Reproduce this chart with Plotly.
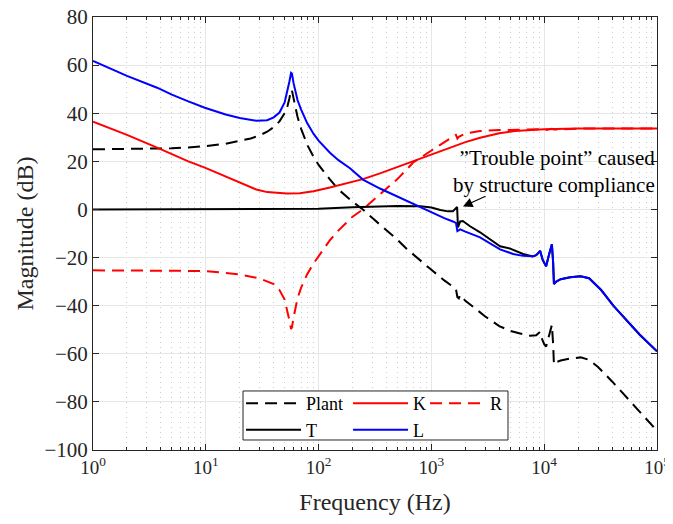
import plotly.graph_objects as go

# ---------------- data ----------------
plant_f = [1, 2, 3, 5, 7, 10, 15, 20, 25, 30, 35, 40, 45, 50, 53, 55, 57, 58, 60, 62, 65, 70, 80, 90,
           100, 126, 150, 200, 247, 300, 400, 500, 605, 700, 800, 1000, 1300, 1600, 1650, 1700, 1750,
           1800, 2000, 2500, 3000, 4000, 5000, 6000, 7500, 8500, 9000, 9200, 9600, 10000, 10400, 10800,
           11300, 11700, 12000, 12200, 12800, 14000, 17000, 21000, 25000, 30000, 40000, 50000, 70000, 100000]
plant_db = [25, 25.1, 25.2, 25.4, 25.8, 26.3, 27.3, 28.4, 29.5, 30.8, 32.3, 34.2, 36.6, 40.0, 43, 46, 49.8, 49.5,
            46, 42.5, 38.5, 33.5, 26.5, 22, 18.5, 12.5, 8.3, 3.2, 0, -3.6, -8.7, -12.6, -16.4, -19, -21.4,
            -25.1, -29.5, -32.3, -33, -36.5, -37, -35.5, -38, -41.5, -44.5, -48.5, -50.5, -51.5, -52.5, -52.3,
            -51.5, -50.9, -54, -56, -57, -54, -50, -48, -56, -64.5, -63.5, -62.8, -62, -61.5, -62.5, -65.5,
            -71.5, -76.5, -84, -92]

k_f = [1, 2, 3.7, 5, 7, 9.8, 15, 20, 28, 35, 45, 52, 68, 90, 126, 180, 247, 350, 500, 690, 1000, 1550,
       2000, 2700, 4000, 5500, 7000, 10000, 20000, 100000]
k_db = [36.5, 31, 25.7, 23, 20, 17.4, 13.8, 11.2, 8.3, 7.2, 6.7, 6.6, 6.7, 7.6, 9.1, 10.8, 12.6, 15, 17.7,
        19.9, 22.8, 26.1, 28, 29.8, 31.7, 32.6, 33, 33.3, 33.6, 33.7]

r_f = [1, 3, 10, 20, 30, 40, 45, 50, 53, 55, 57, 58, 60, 62, 65, 70, 79, 90, 103, 126, 148, 200, 247, 300,
       400, 500, 690, 1000, 1300, 1550, 1650, 1700, 1750, 2000, 2700, 4000, 6000, 9000, 10400, 11700, 12200,
       20000, 100000]
r_db = [-25.3, -25.3, -25.6, -27, -28.7, -31, -33.5, -37.5, -42, -46, -49.7, -49, -45, -41, -37, -32.5, -27,
        -22.5, -18.5, -12.8, -9, -3, 0, 3.6, 8.7, 12.6, 19.5, 24.5, 28, 30.3, 31, 29.5, 30.2, 31.5, 32.6, 33,
        33.2, 33.3, 33, 33.5, 33.2, 33.6, 33.7]

t_f = [1, 10, 30, 50, 100, 200, 300, 500, 800, 1000, 1200, 1400, 1550, 1650, 1690, 1720, 1800, 1900, 2200,
       2700, 3300, 4060, 5000, 5300, 6500, 7900, 8500, 9000, 9200, 9700, 10400, 11000, 11700, 12000, 12200,
       12800, 14000, 17000, 21000, 25000, 27000, 32000, 41000, 50000, 70000, 100000]
t_db = [0, 0, 0.05, 0.1, 0.3, 0.9, 1.2, 1.4, 1.3, 0.8, -0.2, -0.8, -0.8, 0.8, 1.0, -7.5, -5, -4.8, -7, -9.5,
        -12.5, -15.3, -16.3, -16.8, -18.5, -19.5, -19, -17.8, -17.2, -21, -23.6, -19, -14.5, -22, -31, -30,
        -29, -28.2, -27.8, -28.6, -30, -33.5, -40, -44.5, -52, -59]

l_f = [1, 2, 3.7, 5, 7, 9.8, 15, 20, 28, 35, 40, 45, 50, 53, 55, 57, 58, 60, 62, 65, 70, 79, 90, 100, 126,
       150, 191, 247, 350, 500, 794, 1000, 1300, 1550, 1650, 1700, 1750, 1800, 2000, 2700, 4060, 5300, 6500,
       7900, 8500, 9000, 9200, 9700, 10400, 11000, 11700, 12000, 12200, 12800, 14000, 17000, 21000, 25000,
       27000, 32000, 41000, 50000, 70000, 100000]
l_db = [61.7, 55.5, 50.6, 47.7, 44.9, 42.3, 39.5, 38, 36.9, 37.1, 38.3, 40.3, 44.5, 49, 53, 56.8, 56.5, 52.5,
        49.7, 45.5, 41.5, 36, 31.5, 28.6, 23.6, 20.5, 17, 12.4, 8.7, 5.3, 1.2, -1.0, -3.6, -5, -5.6, -9, -8.6,
        -8.3, -9.2, -11.6, -16.6, -18.5, -19.3, -19.5, -19, -17.8, -17.2, -21, -23.6, -19, -14.5, -22, -31,
        -30, -29, -28.2, -27.8, -28.6, -30, -33.5, -40, -44.5, -52, -59]

x_tickvals = [1, 10, 100, 1000, 10000, 100000]
x_ticktext = ["10<sup>0</sup>", "10<sup>1</sup>", "10<sup>2</sup>", "10<sup>3</sup>", "10<sup>4</sup>",
              "10<sup>5</sup>"]
y_tickvals = [80, 60, 40, 20, 0, -20, -40, -60, -80, -100]

annot_text = "\u201dTrouble point\u201d caused<br>by structure compliance"

# ---------------- figure ----------------
FONT = "Liberation Serif"
AX = "#262626"
DASH = "12px,7px"

fig = go.Figure()
fig.add_trace(go.Scatter(x=plant_f, y=plant_db, name="Plant", mode="lines", legend="legend",
                         line=dict(color="black", width=2, dash=DASH)))
fig.add_trace(go.Scatter(x=k_f, y=k_db, name="K", mode="lines", legend="legend2",
                         line=dict(color="#ff0000", width=2)))
fig.add_trace(go.Scatter(x=r_f, y=r_db, name="R", mode="lines", legend="legend3",
                         line=dict(color="#ff0000", width=2, dash=DASH)))
fig.add_trace(go.Scatter(x=t_f, y=t_db, name="T", mode="lines", legend="legend",
                         line=dict(color="black", width=2)))
fig.add_trace(go.Scatter(x=l_f, y=l_db, name="L", mode="lines", legend="legend2",
                         line=dict(color="#0000ff", width=2)))

LEG_Y = 0.150
leg_common = dict(orientation="v", y=LEG_Y, xanchor="left", yanchor="top",
                  bgcolor="rgba(0,0,0,0)", borderwidth=0, itemwidth=55,
                  font=dict(family=FONT, size=18, color="black"))

# the page body adds an 8px offset, so the figure is 8px smaller than the window
fig.update_layout(
    width=665, height=516,
    margin=dict(l=85, r=16, t=9, b=74, autoexpand=False),
    paper_bgcolor="white", plot_bgcolor="white",
    font=dict(family=FONT, size=20, color=AX),
    showlegend=True,
    legend=dict(x=0.2625, **leg_common),
    legend2=dict(x=0.4522, **leg_common),
    legend3=dict(x=0.5887, **leg_common),
    xaxis=dict(
        type="log", range=[0, 5], automargin=False, ticklabeloverflow="allow",
        tickmode="array", tickvals=x_tickvals, ticktext=x_ticktext,
        ticks="inside", ticklen=6, tickcolor=AX,
        showline=True, linecolor=AX, linewidth=1, mirror="ticks",
        showgrid=True, gridcolor="#e6e6e6", gridwidth=1,
        minor=dict(dtick="D1", ticks="inside", ticklen=3, tickcolor=AX,
                   showgrid=True, gridcolor="#cdcdcd", griddash="1px,4px", gridwidth=1),
        title=dict(text="Frequency (Hz)", font=dict(family=FONT, size=24, color=AX), standoff=16),
        tickfont=dict(family=FONT, size=19, color=AX),
        zeroline=False,
    ),
    yaxis=dict(
        range=[-100, 80], automargin=False, ticklabeloverflow="allow",
        tickmode="array", tickvals=y_tickvals,
        ticks="inside", ticklen=6, tickcolor=AX,
        showline=True, linecolor=AX, linewidth=1, mirror="ticks",
        showgrid=True, gridcolor="#e6e6e6", gridwidth=1,
        title=dict(text="Magnitude (dB)", font=dict(family=FONT, size=24, color=AX), standoff=4),
        tickfont=dict(family=FONT, size=21, color=AX),
        zeroline=False,
    ),
)

# legend frame
fig.add_shape(type="rect", xref="paper", yref="paper", x0=0.266, x1=0.7358, y0=0.0231, y1=0.1363,
              line=dict(color=AX, width=1), fillcolor="white", layer="above")

fig.add_annotation(xref="paper", yref="paper", x=1.0, y=0.6426, xanchor="right", yanchor="middle",
                   text=annot_text, showarrow=False, align="right",
                   font=dict(family=FONT, size=21, color="black"))
fig.add_annotation(x=3.28, y=1.2, xref="x", yref="y", ax=24, ay=-11, text="",
                   showarrow=True, arrowhead=2, arrowsize=1.6, arrowwidth=1.2, arrowcolor="black")

fig.write_html("out.html")
